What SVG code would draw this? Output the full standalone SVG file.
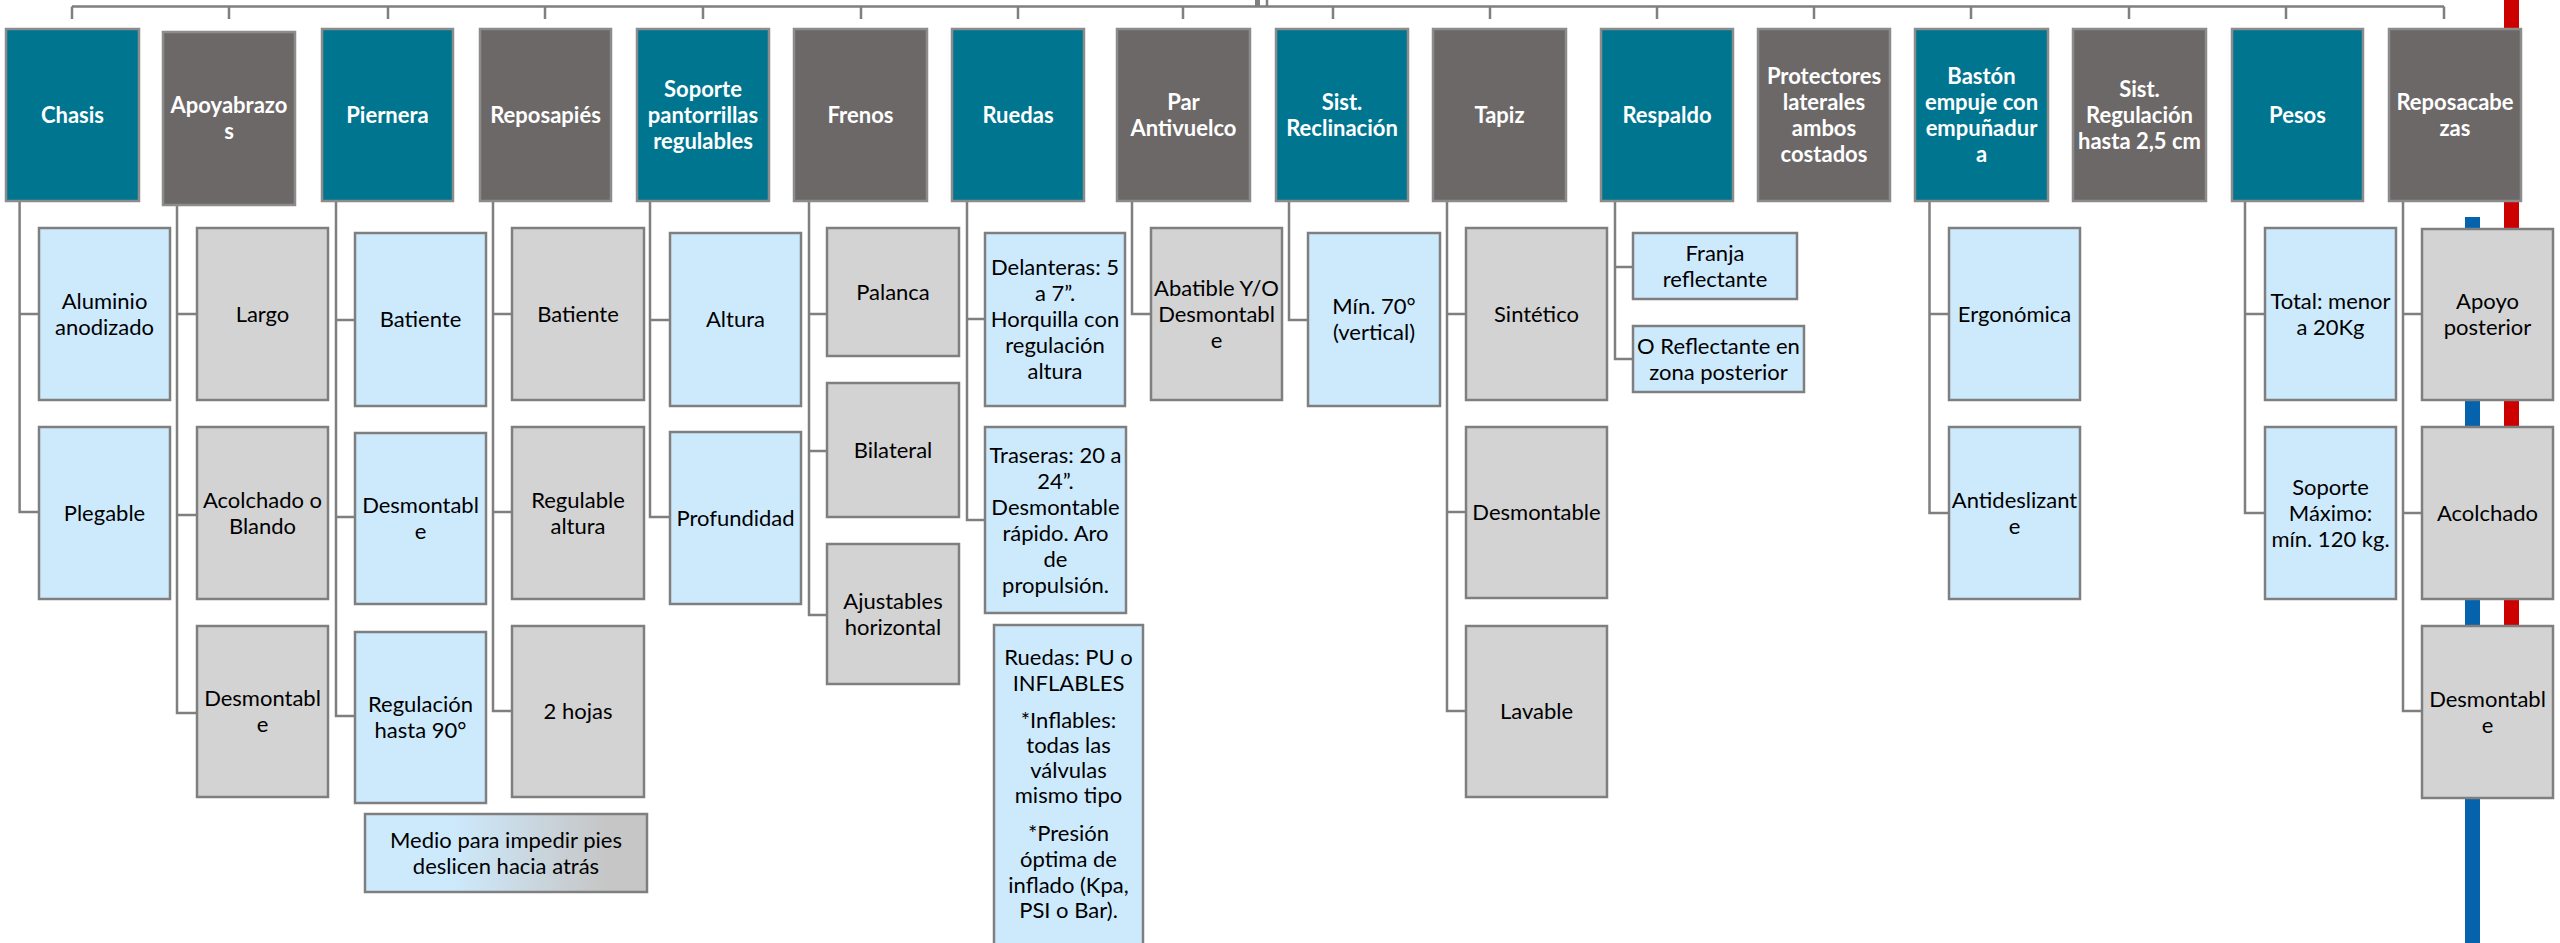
<svg xmlns="http://www.w3.org/2000/svg" width="2560" height="943" viewBox="0 0 2560 943">
<style>
.hT{fill:#00758f;stroke:#8c8c8c;stroke-width:2.5}
.hG{fill:#6d6868;stroke:#8c8c8c;stroke-width:2.5}
.cB{fill:#cdeafd;stroke:#7f7f7f;stroke-width:2.5}
.cG{fill:#d3d3d3;stroke:#7f7f7f;stroke-width:2.5}
.ht{font-family:Lato,"Open Sans",sans-serif;font-weight:700;font-size:22px;fill:#ffffff;text-anchor:middle}
.ct{font-family:Lato,"Open Sans",sans-serif;font-size:22px;fill:#000000;text-anchor:middle}
.cn{fill:none;stroke:#7f7f7f;stroke-width:2.5}
</style>
<defs>
<linearGradient id="gMedio" x1="0" y1="0" x2="1" y2="0">
<stop offset="0.3" stop-color="#cdeafd"/>
<stop offset="0.85" stop-color="#c6c6c6"/>
</linearGradient>
</defs>
<rect width="2560" height="943" fill="#ffffff"/>
<g id="bars">
<rect x="2504" y="0" width="15" height="660" fill="#cc0000"/>
<rect x="2465" y="217" width="15" height="726" fill="#0563ae"/>
</g>
<g id="connectors">
<rect x="1255" y="0" width="5" height="6" fill="#7f7f7f"/>
<path class="cn" d="M1267 0V6"/>
<path class="cn" d="M72 6.5H2444M72 6.5V19M229 6.5V19M388 6.5V19M545 6.5V19M703 6.5V19M861 6.5V19M1018 6.5V19M1183 6.5V19M1333 6.5V19M1490 6.5V19M1657 6.5V19M1814 6.5V19M1971 6.5V19M2129 6.5V19M2286 6.5V19M2444 6.5V19"/>
<path class="cn" d="M19.6 201V512H39M19.6 314H39"/>
<path class="cn" d="M177 205V713H197M177 314H197M177 515H197"/>
<path class="cn" d="M336 201V716H355M336 320H355M336 517H355"/>
<path class="cn" d="M493 201V711H512M493 314H512M493 512H512"/>
<path class="cn" d="M650 201V517H670M650 320H670"/>
<path class="cn" d="M809 201V615H827M809 314H827M809 451H827"/>
<path class="cn" d="M967 201V520H985M967 319H985"/>
<path class="cn" d="M1132 201V314H1151"/>
<path class="cn" d="M1289 201V320H1308"/>
<path class="cn" d="M1447 201V711H1466M1447 314H1466M1447 512H1466"/>
<path class="cn" d="M1615 201V359H1633M1615 267H1633"/>
<path class="cn" d="M1929.5 201V513H1949M1929.5 314H1949"/>
<path class="cn" d="M2245 201V513H2265M2245 314H2265"/>
<path class="cn" d="M2403 201V711H2422M2403 314H2422M2403 513H2422"/>
</g>
<g id="h-chasis"><rect class="hT" x="6" y="29" width="133" height="172"/><text class="ht" x="72.5" y="122.5">Chasis</text></g>
<g id="h-apoyabrazos"><rect class="hG" x="163" y="32" width="132" height="173"/><text class="ht" x="229" y="113">Apoyabrazo</text><text class="ht" x="229" y="139">s</text></g>
<g id="h-piernera"><rect class="hT" x="322" y="29" width="131" height="172"/><text class="ht" x="387.5" y="122.5">Piernera</text></g>
<g id="h-reposapies"><rect class="hG" x="480" y="29" width="131" height="172"/><text class="ht" x="545.5" y="122.5">Reposapiés</text></g>
<g id="h-soporte"><rect class="hT" x="637" y="29" width="132" height="172"/><text class="ht" x="703" y="96.5">Soporte</text><text class="ht" x="703" y="122.5">pantorrillas</text><text class="ht" x="703" y="148.5">regulables</text></g>
<g id="h-frenos"><rect class="hG" x="794" y="29" width="133" height="172"/><text class="ht" x="860.5" y="122.5">Frenos</text></g>
<g id="h-ruedas"><rect class="hT" x="952" y="29" width="132" height="172"/><text class="ht" x="1018" y="122.5">Ruedas</text></g>
<g id="h-par"><rect class="hG" x="1117" y="29" width="133" height="172"/><text class="ht" x="1183.5" y="109.5">Par</text><text class="ht" x="1183.5" y="135.5">Antivuelco</text></g>
<g id="h-reclinacion"><rect class="hT" x="1276" y="29" width="132" height="172"/><text class="ht" x="1342" y="109.5">Sist.</text><text class="ht" x="1342" y="135.5">Reclinación</text></g>
<g id="h-tapiz"><rect class="hG" x="1433" y="29" width="133" height="172"/><text class="ht" x="1499.5" y="122.5">Tapiz</text></g>
<g id="h-respaldo"><rect class="hT" x="1601" y="29" width="132" height="172"/><text class="ht" x="1667" y="122.5">Respaldo</text></g>
<g id="h-protectores"><rect class="hG" x="1758" y="29" width="132" height="172"/><text class="ht" x="1824" y="83.5">Protectores</text><text class="ht" x="1824" y="109.5">laterales</text><text class="ht" x="1824" y="135.5">ambos</text><text class="ht" x="1824" y="161.5">costados</text></g>
<g id="h-baston"><rect class="hT" x="1915" y="29" width="133" height="172"/><text class="ht" x="1981.5" y="83.5">Bastón</text><text class="ht" x="1981.5" y="109.5">empuje con</text><text class="ht" x="1981.5" y="135.5">empuñadur</text><text class="ht" x="1981.5" y="161.5">a</text></g>
<g id="h-regulacion"><rect class="hG" x="2073" y="29" width="133" height="172"/><text class="ht" x="2139.5" y="96.5">Sist.</text><text class="ht" x="2139.5" y="122.5">Regulación</text><text class="ht" x="2139.5" y="148.5">hasta 2,5 cm</text></g>
<g id="h-pesos"><rect class="hT" x="2232" y="29" width="131" height="172"/><text class="ht" x="2297.5" y="122.5">Pesos</text></g>
<g id="h-reposacabezas"><rect class="hG" x="2389" y="29" width="132" height="172"/><text class="ht" x="2455" y="109.5">Reposacabe</text><text class="ht" x="2455" y="135.5">zas</text></g>

<g id="c-aluminio"><rect class="cB" x="39" y="228" width="131" height="172"/><text class="ct" x="104.5" y="308.5">Aluminio</text><text class="ct" x="104.5" y="334.5">anodizado</text></g>
<g id="c-plegable"><rect class="cB" x="39" y="427" width="131" height="172"/><text class="ct" x="104.5" y="520.5">Plegable</text></g>
<g id="c-largo"><rect class="cG" x="197" y="228" width="131" height="172"/><text class="ct" x="262.5" y="321.5">Largo</text></g>
<g id="c-acolchado1"><rect class="cG" x="197" y="427" width="131" height="172"/><text class="ct" x="262.5" y="507.5">Acolchado o</text><text class="ct" x="262.5" y="533.5">Blando</text></g>
<g id="c-desmontable1"><rect class="cG" x="197" y="626" width="131" height="171"/><text class="ct" x="262.5" y="706">Desmontabl</text><text class="ct" x="262.5" y="732">e</text></g>
<g id="c-batiente1"><rect class="cB" x="355" y="233" width="131" height="173"/><text class="ct" x="420.5" y="327">Batiente</text></g>
<g id="c-desmontable2"><rect class="cB" x="355" y="433" width="131" height="171"/><text class="ct" x="420.5" y="513">Desmontabl</text><text class="ct" x="420.5" y="539">e</text></g>
<g id="c-regulacion90"><rect class="cB" x="355" y="632" width="131" height="171"/><text class="ct" x="420.5" y="712">Regulación</text><text class="ct" x="420.5" y="738">hasta 90°</text></g>
<g id="c-batiente2"><rect class="cG" x="512" y="228" width="132" height="172"/><text class="ct" x="578" y="321.5">Batiente</text></g>
<g id="c-regulable"><rect class="cG" x="512" y="427" width="132" height="172"/><text class="ct" x="578" y="507.5">Regulable</text><text class="ct" x="578" y="533.5">altura</text></g>
<g id="c-2hojas"><rect class="cG" x="512" y="626" width="132" height="171"/><text class="ct" x="578" y="719">2 hojas</text></g>
<g id="c-medio"><rect x="365" y="814" width="282" height="78" fill="url(#gMedio)" stroke="#7f7f7f" stroke-width="2.5"/><text class="ct" x="506" y="847.5">Medio para impedir pies</text><text class="ct" x="506" y="873.5">deslicen hacia atrás</text></g>
<g id="c-altura"><rect class="cB" x="670" y="233" width="131" height="173"/><text class="ct" x="735.5" y="327">Altura</text></g>
<g id="c-profundidad"><rect class="cB" x="670" y="432" width="131" height="172"/><text class="ct" x="735.5" y="525.5">Profundidad</text></g>
<g id="c-palanca"><rect class="cG" x="827" y="228" width="132" height="128"/><text class="ct" x="893" y="299.5">Palanca</text></g>
<g id="c-bilateral"><rect class="cG" x="827" y="383" width="132" height="134"/><text class="ct" x="893" y="457.5">Bilateral</text></g>
<g id="c-ajustables"><rect class="cG" x="827" y="544" width="132" height="140"/><text class="ct" x="893" y="608.5">Ajustables</text><text class="ct" x="893" y="634.5">horizontal</text></g>
<g id="c-delanteras"><rect class="cB" x="985" y="233" width="140" height="173"/><text class="ct" x="1055" y="275">Delanteras: 5</text><text class="ct" x="1055" y="301">a 7”.</text><text class="ct" x="1055" y="327">Horquilla con</text><text class="ct" x="1055" y="353">regulación</text><text class="ct" x="1055" y="379">altura</text></g>
<g id="c-traseras"><rect class="cB" x="985" y="427" width="141" height="186"/><text class="ct" x="1055.5" y="462.5">Traseras: 20 a</text><text class="ct" x="1055.5" y="488.5">24”.</text><text class="ct" x="1055.5" y="514.5">Desmontable</text><text class="ct" x="1055.5" y="540.5">rápido. Aro</text><text class="ct" x="1055.5" y="566.5">de</text><text class="ct" x="1055.5" y="592.5">propulsión.</text></g>
<g id="c-ruedaspu"><rect class="cB" x="994" y="625" width="149" height="330"/><text class="ct" x="1068.5" y="665">Ruedas: PU o</text><text class="ct" x="1068.5" y="691">INFLABLES</text><text class="ct" x="1068.5" y="728">*Inflables:</text><text class="ct" x="1068.5" y="753">todas las</text><text class="ct" x="1068.5" y="778">válvulas</text><text class="ct" x="1068.5" y="803">mismo tipo</text><text class="ct" x="1068.5" y="841">*Presión</text><text class="ct" x="1068.5" y="867">óptima de</text><text class="ct" x="1068.5" y="893">inflado (Kpa,</text><text class="ct" x="1068.5" y="918">PSI o Bar).</text></g>
<g id="c-abatible"><rect class="cG" x="1151" y="228" width="131" height="172"/><text class="ct" x="1216.5" y="295.5">Abatible Y/O</text><text class="ct" x="1216.5" y="321.5">Desmontabl</text><text class="ct" x="1216.5" y="347.5">e</text></g>
<g id="c-min70"><rect class="cB" x="1308" y="233" width="132" height="173"/><text class="ct" x="1374" y="314">Mín. 70°</text><text class="ct" x="1374" y="340">(vertical)</text></g>
<g id="c-sintetico"><rect class="cG" x="1466" y="228" width="141" height="172"/><text class="ct" x="1536.5" y="321.5">Sintético</text></g>
<g id="c-desmontable3"><rect class="cG" x="1466" y="427" width="141" height="171"/><text class="ct" x="1536.5" y="520">Desmontable</text></g>
<g id="c-lavable"><rect class="cG" x="1466" y="626" width="141" height="171"/><text class="ct" x="1536.5" y="719">Lavable</text></g>
<g id="c-franja"><rect class="cB" x="1633" y="233" width="164" height="66"/><text class="ct" x="1715" y="260.5">Franja</text><text class="ct" x="1715" y="286.5">reflectante</text></g>
<g id="c-oreflectante"><rect class="cB" x="1633" y="326" width="171" height="66"/><text class="ct" x="1718.5" y="353.5">O Reflectante en</text><text class="ct" x="1718.5" y="379.5">zona posterior</text></g>
<g id="c-ergonomica"><rect class="cB" x="1949" y="228" width="131" height="172"/><text class="ct" x="2014.5" y="321.5">Ergonómica</text></g>
<g id="c-antideslizante"><rect class="cB" x="1949" y="427" width="131" height="172"/><text class="ct" x="2014.5" y="507.5">Antideslizant</text><text class="ct" x="2014.5" y="533.5">e</text></g>
<g id="c-total"><rect class="cB" x="2265" y="228" width="131" height="172"/><text class="ct" x="2330.5" y="308.5">Total: menor</text><text class="ct" x="2330.5" y="334.5">a 20Kg</text></g>
<g id="c-soportemax"><rect class="cB" x="2265" y="427" width="131" height="172"/><text class="ct" x="2330.5" y="494.5">Soporte</text><text class="ct" x="2330.5" y="520.5">Máximo:</text><text class="ct" x="2330.5" y="546.5">mín. 120 kg.</text></g>
<g id="c-apoyo"><rect class="cG" x="2422" y="229" width="131" height="171"/><text class="ct" x="2487.5" y="309">Apoyo</text><text class="ct" x="2487.5" y="335">posterior</text></g>
<g id="c-acolchado2"><rect class="cG" x="2422" y="427" width="131" height="172"/><text class="ct" x="2487.5" y="520.5">Acolchado</text></g>
<g id="c-desmontable4"><rect class="cG" x="2422" y="626" width="131" height="172"/><text class="ct" x="2487.5" y="706.5">Desmontabl</text><text class="ct" x="2487.5" y="732.5">e</text></g>
</svg>
